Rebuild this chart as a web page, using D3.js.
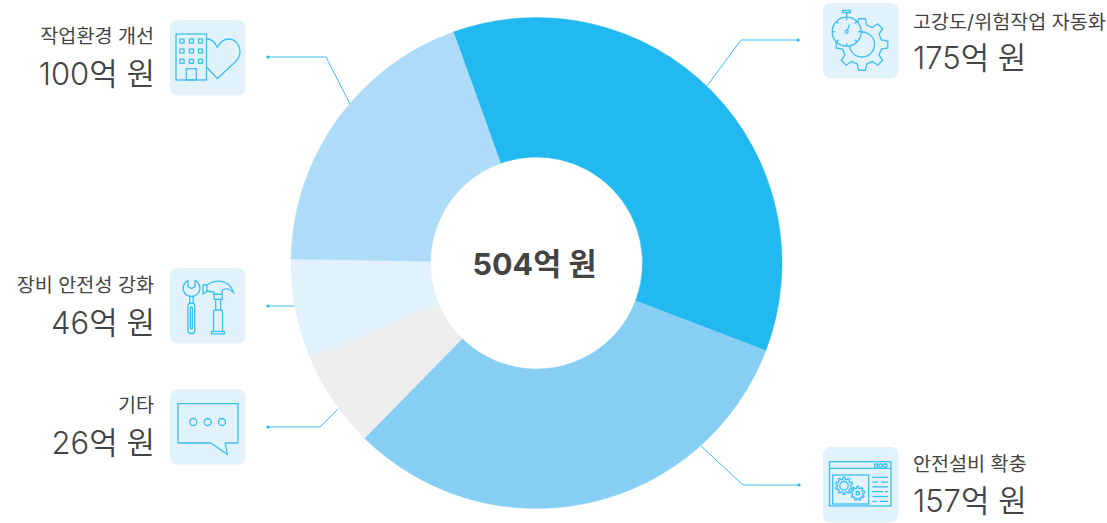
<!DOCTYPE html>
<html lang="ko">
<head>
<meta charset="utf-8">
<style>
  html, body { margin: 0; padding: 0; background: #fff; }
  svg { display: block; }
  text { font-family: Inter, "Noto Sans CJK KR", sans-serif; fill: #444; }
</style>
<script src="https://cdn.jsdelivr.net/npm/d3@7"></script>
</head>
<body>
<div class="donut-viz"></div>
<script>
const WIDTH = 1107, HEIGHT = 523;

// what the labels say
const labels = ["고강도/위험작업 자동화", "안전설비 확충", "기타", "장비 안전성 강화", "작업환경 개선"];
const amounts = [175, 157, 26, 46, 100];
const totalLabel = "504억 원";

// slice sizes as drawn (they do not follow the labels exactly)
const sliceValues = [183, 159, 32, 33, 34, 63];
const sliceColors = ["#22b8f0", "#87cef5", "#eeeeee", "#e1f2fc", "#aedcf8", "#aedcf8"];

const ICON = "#3dbff2", TILE = "#e1f2fb";

const svg = d3.select(".donut-viz").append("svg")
    .attr("width", WIDTH)
    .attr("height", HEIGHT);

const CX = 536.5, CY = 263, OUTER = 245.5, INNER = 106;
const START = -19.8 * Math.PI / 180;

const pie = d3.pie().sort(null).startAngle(START).endAngle(START + 2 * Math.PI);
const arc = d3.arc().innerRadius(INNER).outerRadius(OUTER);
const slices = pie(sliceValues);

// placement of each label block, icon tile and leader line
const layout = [
    { side: "right", textX: 913, labelY: 29, valueY: 69, tile: [823, 3], icon: iconGear,
      leader: [[798, 40], [741, 40], [707, 86]] },
    { side: "right", textX: 913, labelY: 471, valueY: 512, tile: [823, 447], icon: iconWindow,
      leader: [[799, 485], [743, 485], [701, 446]] },
    { side: "left", textX: 154, labelY: 412, valueY: 454, tile: [170, 389], icon: iconBubble,
      leader: [[268, 427], [320, 427], [338, 409]] },
    { side: "left", textX: 154, labelY: 292, valueY: 334, tile: [170, 268], icon: iconTools,
      leader: [[268, 306], [295, 306]] },
    { side: "left", textX: 154, labelY: 43, valueY: 85, tile: [170, 20], icon: iconBuilding,
      leader: [[268, 57], [326, 57], [350, 104]] }
];

// leader lines
const line = d3.line();
layout.forEach(d => {
    svg.append("path")
        .attr("d", line(d.leader))
        .attr("fill", "none")
        .attr("stroke", ICON)
        .attr("stroke-width", 1);
    svg.append("circle")
        .attr("cx", d.leader[0][0])
        .attr("cy", d.leader[0][1])
        .attr("r", 1.6)
        .attr("fill", "#22b8f0");
});

// donut
const donut = svg.append("g").attr("transform", `translate(${CX}, ${CY})`);
donut.selectAll("path")
    .data(slices)
    .join("path")
    .attr("d", arc)
    .attr("fill", (d, i) => sliceColors[i])
    .attr("stroke", (d, i) => sliceColors[i])
    .attr("stroke-width", 0.5);

// hairline between the two same-colour slices
const seam = slices[4].endAngle - Math.PI / 2;
donut.append("line")
    .attr("x1", Math.cos(seam) * INNER)
    .attr("y1", Math.sin(seam) * INNER)
    .attr("x2", Math.cos(seam) * OUTER)
    .attr("y2", Math.sin(seam) * OUTER)
    .attr("stroke", "#9ad7f6")
    .attr("stroke-width", 0.8);

donut.append("text")
    .attr("text-anchor", "middle")
    .attr("x", -2)
    .attr("y", 12)
    .attr("font-size", 30.5)
    .attr("font-weight", 700)
    .text(totalLabel);

// label blocks
layout.forEach((d, i) => {
    const anchor = d.side === "left" ? "end" : "start";
    svg.append("text")
        .attr("x", d.textX)
        .attr("y", d.labelY)
        .attr("text-anchor", anchor)
        .attr("font-size", 19.6)
        .text(labels[i]);
    svg.append("text")
        .attr("x", d.side === "left" ? d.textX + 1 : d.textX)
        .attr("y", d.valueY)
        .attr("text-anchor", anchor)
        .attr("font-size", 31)
        .attr("font-weight", 350)
        .text(`${amounts[i]}억 원`);

    const tile = svg.append("g").attr("transform", `translate(${d.tile[0]}, ${d.tile[1]})`);
    tile.append("rect")
        .attr("width", 75.5)
        .attr("height", 75.5)
        .attr("rx", 8)
        .attr("fill", TILE);
    const g = tile.append("g")
        .attr("fill", "none")
        .attr("stroke", ICON)
        .attr("stroke-width", 1.3);
    d.icon(g);
});

function rect(g, x, y, w, h, rx) {
    return g.append("rect").attr("x", x).attr("y", y).attr("width", w).attr("height", h).attr("rx", rx || 0);
}

function path(g, d) {
    return g.append("path").attr("d", d);
}

/**
 * cog outline as a path string
 */
function cogPath(cx, cy, rOut, rIn, teeth) {
    const pts = [];
    const step = 2 * Math.PI / teeth;
    for (let i = 0; i < teeth; i++) {
        const a = i * step - Math.PI / 2;
        [[-0.3, rIn], [-0.17, rOut], [0.17, rOut], [0.3, rIn]].forEach(([k, r]) => {
            pts.push([cx + Math.cos(a + k * step) * r, cy + Math.sin(a + k * step) * r]);
        });
    }
    return d3.line().curve(d3.curveLinearClosed)(pts);
}

function iconGear(g) {
    path(g, cogPath(39, 41.5, 26, 20, 8));
    g.append("circle").attr("cx", 39).attr("cy", 41.5).attr("r", 12.5);
    // stopwatch sits on top of the cog
    g.append("circle").attr("cx", 23.7).attr("cy", 28.7).attr("r", 14.5).attr("fill", TILE);
    rect(g, 19.5, 7.5, 8, 2.2, 0.5);
    path(g, "M23.7 9.7 V14.2");
    g.append("circle").attr("cx", 23.7).attr("cy", 28.7).attr("r", 1.5);
    path(g, "M24.4 27.3 L26.5 21.5");
    d3.range(8).forEach(i => {
        const a = i * Math.PI / 4;
        path(g, `M${23.7 + Math.cos(a) * 11.5} ${28.7 + Math.sin(a) * 11.5} L${23.7 + Math.cos(a) * 14.5} ${28.7 + Math.sin(a) * 14.5}`);
    });
}

function iconWindow(g) {
    rect(g, 6.5, 14.7, 61.5, 44.3);
    path(g, "M6.5 21.3 H68");
    [53, 57.7, 62.3].forEach(x => rect(g, x - 1.5, 17, 3, 3.2, 0.5));
    rect(g, 9.7, 28, 36, 29);
    path(g, cogPath(21, 38.7, 8.6, 6.6, 10));
    g.append("circle").attr("cx", 21).attr("cy", 38.7).attr("r", 4.2);
    path(g, cogPath(34.7, 46.3, 7, 5.2, 9));
    g.append("circle").attr("cx", 34.7).attr("cy", 46.3).attr("r", 1.8);
    [[49.3, 65], [49.3, 55, 58, 65], [49.3, 65], [49.3, 60, 62, 65], [49.3, 65], [49.3, 54, 57, 65]].forEach((p, i) => {
        const y = 30.3 + i * 4.8;
        path(g, `M${p[0]} ${y} H${p[1]}` + (p.length > 2 ? ` M${p[2]} ${y} H${p[3]}` : ""));
    });
}

function iconBubble(g) {
    path(g, "M8 14.7 H68 V54 H55.3 L57.3 65.3 L40.7 54 H8 Z");
    [23.3, 37.7, 52].forEach(x => g.append("circle").attr("cx", x).attr("cy", 33).attr("r", 3.5));
}

function iconTools(g) {
    // wrench
    path(g, "M18 12.5 A8.4 8.4 0 1 0 25 12.5 L25 18.5 L21.5 20.5 L18 18.5 Z");
    path(g, "M19.7 27.5 V35 M23.3 27.5 V35");
    rect(g, 18, 35, 6.8, 30.5, 3);
    rect(g, 20.4, 39, 2, 22, 1);
    // hammer
    path(g, "M33 17 H37 L40 15 C50 10.5 60 14 63.5 24.5 C59 20.5 55 20 52.3 22.5 V26.3 H44 V24 L37.5 23 L33 26 Z");
    path(g, "M37 17 V23");
    rect(g, 44, 26.3, 8.3, 5);
    path(g, "M45.7 31.3 V42 M50.7 31.3 V42");
    path(g, "M43.5 63.5 V44 Q43.5 42 45.5 42 H50.5 Q52.5 42 52.5 44 V63.5");
    rect(g, 41.5, 63.5, 13, 2.4);
}

function iconBuilding(g) {
    path(g, "M37 19 C41 19 45 22 47.3 27.3 C50 22 54 19 59 19 C65 19 70 25 70 32 C70 37 67 41 62 45 L47.3 58.5 L36.5 47");
    rect(g, 6, 14, 30.5, 46);
    rect(g, 16.3, 48.7, 10, 11.3);
    [21, 31, 41.3].forEach(y => {
        [12, 21.5, 30.5].forEach(x => rect(g, x - 2, y - 2, 4, 4));
    });
}
</script>
</body>
</html>
